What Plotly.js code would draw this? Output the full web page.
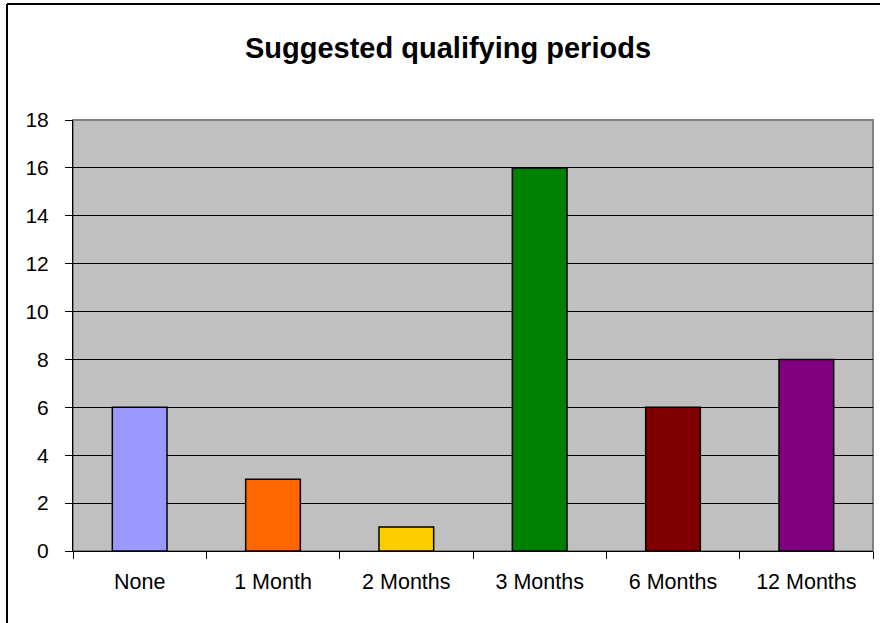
<!DOCTYPE html>
<html>
<head>
<meta charset="utf-8">
<script src="https://cdn.plot.ly/plotly-3.0.1.min.js"></script>
<style>html,body{margin:0;padding:0;background:#fff;overflow:hidden;}#chart{width:880px;height:623px;}</style>
</head>
<body>
<div id="chart"></div>
<script>
const categories = ["None", "1 Month", "2 Months", "3 Months", "6 Months", "12 Months"];
const values = [6, 3, 1, 16, 6, 8];
const barColors = ["#9999FF", "#FF6600", "#FFCC00", "#008000", "#800000", "#800080"];
const yTicks = [0, 2, 4, 6, 8, 10, 12, 14, 16, 18];

const trace = {
  type: "bar",
  x: categories,
  y: values,
  marker: {color: barColors, line: {color: "#000000", width: 1.5}},
  hoverinfo: "x+y"
};

const fx0 = (7 - 73) / 800;
const fy1 = (551 - 4) / 431;
const fx1 = (881 - 73) / 800;

const layout = {
  width: 880, height: 623,
  margin: {l: 73, r: 7, t: 120, b: 72, pad: 0},
  paper_bgcolor: "#ffffff",
  plot_bgcolor: "#C0C0C0",
  font: {family: "Liberation Sans, Arial, sans-serif", color: "#000000", size: 21},
  title: {
    text: "<b>Suggested qualifying periods</b>",
    font: {family: "Liberation Sans, Arial, sans-serif", size: 29, color: "#000000"},
    x: 448/880, xref: "container", xanchor: "center",
    y: 1 - 48/623, yref: "container", yanchor: "middle"
  },
  bargap: 0.59,
  showlegend: false,
  xaxis: {
    type: "category",
    showline: true, linecolor: "#000000", linewidth: 1,
    ticks: "outside", tickson: "boundaries", ticklen: 7, tickcolor: "#000000", tickwidth: 1,
    showgrid: false, zeroline: false,
    ticklabelstandoff: 11,
    tickfont: {size: 21.5}
  },
  yaxis: {
    range: [0, 18],
    tickvals: yTicks,
    showline: true, linecolor: "#000000", linewidth: 1,
    ticks: "outside", ticklen: 7, tickcolor: "#000000", tickwidth: 1,
    showgrid: true, gridcolor: "#000000", gridwidth: 1,
    zeroline: false,
    ticklabelstandoff: 12,
    tickfont: {size: 21}
  },
  shapes: [
    {type: "rect", xref: "paper", yref: "paper", x0: 0, x1: 1, y0: 0, y1: 1,
     line: {color: "#808080", width: 2}, layer: "below"},
    {type: "line", xref: "paper", yref: "paper",
     x0: fx0, x1: fx0, y0: -0.2, y1: fy1,
     line: {color: "#000000", width: 2}, layer: "above"},
    {type: "line", xref: "paper", yref: "paper",
     x0: fx0, x1: fx1, y0: fy1, y1: fy1,
     line: {color: "#000000", width: 2}, layer: "above"}
  ]
};

Plotly.newPlot("chart", [trace], layout, {displayModeBar: false, staticPlot: true});
</script>
</body>
</html>
